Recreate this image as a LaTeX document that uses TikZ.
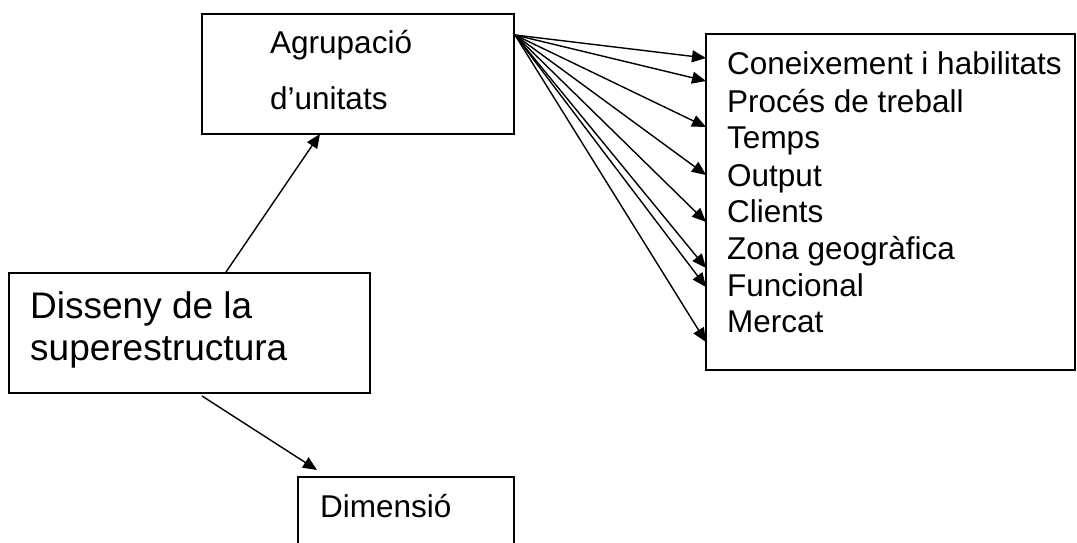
\documentclass[tikz,border=0pt]{standalone}
\usepackage{fontspec}
\setmainfont{Liberation Sans}
\usetikzlibrary{arrows.meta}
\begin{document}
\begin{tikzpicture}[x=1pt,y=-1pt,
  box/.style={draw,line width=1.8pt,inner sep=0pt},
  lbl/.style={anchor=base west,inner sep=0pt,font=\fontsize{31.5}{36}\selectfont},
  biglbl/.style={anchor=base west,inner sep=0pt,font=\fontsize{37}{42}\selectfont},
  link/.style={line width=1.4pt,-{Triangle[length=14pt,width=12pt]}}]
\useasboundingbox (0,0) rectangle (1077,543);
\clip (0,0) rectangle (1077,543);

% boxes
\node[box,minimum width=312pt,minimum height=120pt] (agr) at (358,74) {};
\node[box,minimum width=361pt,minimum height=120pt] (dis) at (189.5,333) {};
\node[box,minimum width=216pt,minimum height=90pt] (dim) at (406,522) {};
\node[box,minimum width=369pt,minimum height=336pt] (crit) at (890.5,202) {};

% box texts
\node[lbl] (agrA) at (270,54) {Agrupació};
\node[lbl] (agrB) at (270,110) {d’unitats};
\node[biglbl] (disA) at (30,318) {Disseny de la};
\node[biglbl] (disB) at (30,360) {superestructura};
\node[lbl] (dimA) at (320,517) {Dimensió};

\node[lbl] (c1) at (727,75) {Coneixement i habilitats};
\node[lbl] (c2) at (727,112) {Procés de treball};
\node[lbl] (c3) at (727,148.5) {Temps};
\node[lbl] (c4) at (727,186) {Output};
\node[lbl] (c5) at (727,222.5) {Clients};
\node[lbl] (c6) at (727,259.5) {Zona geogràfica};
\node[lbl] (c7) at (727,296) {Funcional};
\node[lbl] (c8) at (727,332.5) {Mercat};

% connector end points on the box outlines
\coordinate (disTop) at (226,272);
\coordinate (agrIn) at (320,134);
\coordinate (disBot) at (202,396);
\coordinate (dimIn) at (317,470);
\coordinate (fan) at (515,35);
\foreach \i/\y in {1/58,2/81,3/127,4/175,5/222,6/268,7/287,8/342}
  \coordinate (t\i) at (706,\y);

% connectors
\draw[link] (disTop) -- (agrIn);
\draw[link] (disBot) -- (dimIn);
\foreach \i in {1,...,8}
  \draw[link] (fan) -- (t\i);
\end{tikzpicture}
\end{document}
